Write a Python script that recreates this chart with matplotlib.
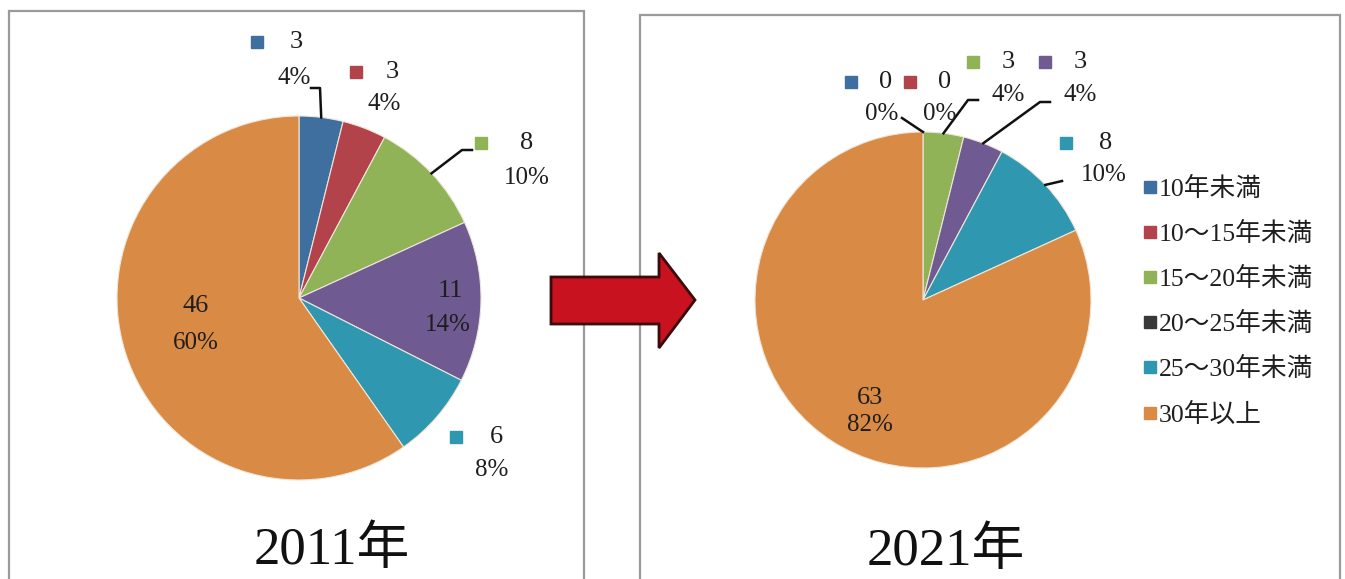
import numpy as np
import matplotlib.pyplot as plt
from matplotlib.patches import Polygon, Rectangle
from matplotlib.lines import Line2D

plt.rcParams['font.family'] = ['Liberation Serif', 'Noto Sans CJK JP']

categories = ['10年未満', '10～15年未満', '15～20年未満', '20～25年未満', '25～30年未満', '30年以上']
values_2011 = [3, 3, 8, 11, 6, 46]
values_2021 = [0, 0, 3, 3, 8, 63]
years = ['2011年', '2021年']

slice_colors = ['#3f6f9f', '#b2434a', '#8fb356', '#6f5a92', '#2f98b0', '#d98b45']
legend_colors = ['#3f6f9f', '#b2434a', '#8fb356', '#383838', '#2f98b0', '#d98b45']
text_color = '#1e1e1e'

W, H = 1345, 579


def Y(y):
    # layout below is written in top-down pixel rows
    return H - y


# pie placement: centre (x, y) and radius in pixels
pie_geom = [((299, 298), 182), ((923, 300), 168)]

# label layout per slice: (square pos or None, value pos, percent pos)
label_layout = [
    [((257, 42), (296, 42), (294, 78)),
     ((356, 72), (392, 72), (384, 104)),
     ((481, 143), (527, 143), (527, 178)),
     (None, (450, 291), (448, 325)),
     ((456, 437), (496, 437), (492, 470)),
     (None, (196, 306), (196, 343))],
    [((851, 82), (886, 82), (882, 114)),
     ((910, 82), (945, 82), (940, 114)),
     ((973, 62), (1008, 62), (1008, 95)),
     ((1045, 62), (1080, 62), (1080, 95)),
     ((1066, 143), (1106, 143), (1104, 175)),
     (None, (870, 398), (870, 425))],
]

# leader line elbows, ending on the slice edge
leaders = [
    {0: [(311, 88), (320, 88)], 2: [(472, 150), (462, 150)]},
    {0: [(902, 118)], 2: [(978, 100), (968, 100)],
     3: [(1050, 102), (1040, 102)], 4: [(1062, 181)]},
]

title_pos = [(332, 551), (946, 552)]
panels = [(9, 11, 584, 590), (640, 15, 1340, 590)]

fig = plt.figure(figsize=(W / 100, H / 100), dpi=100)
ax = fig.add_axes([0, 0, 1, 1])

# panel frames
for x0, y0, x1, y1 in panels:
    ax.add_patch(Rectangle((x0, Y(y1)), x1 - x0, y1 - y0, fill=False,
                           edgecolor='#9a9a9a', lw=1.6, zorder=1))

for k, vals in enumerate([values_2011, values_2021]):
    (cx, cy), r = pie_geom[k]
    wedges, _ = ax.pie(vals, colors=slice_colors, startangle=90, counterclock=False,
                       center=(cx, Y(cy)), radius=r,
                       wedgeprops=dict(edgecolor='#efe6da', linewidth=0.8))
    total = sum(vals)
    for i, v in enumerate(vals):
        sq, vp, pp = label_layout[k][i]
        if sq is not None:
            ax.plot(sq[0], Y(sq[1]), marker='s', ms=9, color=slice_colors[i],
                    linestyle='none', zorder=5)
        ax.text(vp[0], Y(vp[1]), f'{v}', ha='center', va='center',
                fontsize=19, color=text_color, zorder=5)
        ax.text(pp[0], Y(pp[1]), f'{round(v / total * 100)}%', ha='center', va='center',
                fontsize=18, color=text_color, zorder=5)
        if i in leaders[k]:
            w = wedges[i]
            mid = np.deg2rad((w.theta1 + w.theta2) / 2)
            ex = w.center[0] + w.r * np.cos(mid)
            ey = w.center[1] + w.r * np.sin(mid)
            pts = leaders[k][i]
            xs = [p[0] for p in pts] + [ex]
            ys = [Y(p[1]) for p in pts] + [ey]
            ax.plot(xs, ys, color='#111111', lw=1.8, zorder=4)
    ax.text(title_pos[k][0], Y(title_pos[k][1]), years[k], ha='center', va='center',
            fontsize=38, color='#111111')

# arrow between the two years
arrow_pts = [(551, 277), (659, 277), (659, 253), (695, 300), (659, 348), (659, 324), (551, 324)]
ax.add_patch(Polygon([(x, Y(y)) for x, y in arrow_pts], closed=True,
                     facecolor='#c8121f', edgecolor='#3a0a0c', lw=2, zorder=3))

# legend
handles = [Line2D([], [], marker='s', ms=9, color=c, linestyle='none') for c in legend_colors]
leg = ax.legend(handles, categories, loc='upper left',
                bbox_to_anchor=(1131 / W, Y(164) / H), bbox_transform=fig.transFigure,
                frameon=False, fontsize=18.5, handlelength=0.45, handletextpad=0.12,
                labelspacing=0.82, borderpad=0)
for t in leg.get_texts():
    t.set_color(text_color)

ax.set_xlim(0, W)
ax.set_ylim(0, H)
ax.set_aspect('auto')
ax.set_axis_off()

fig.savefig('out.png', dpi=100)
